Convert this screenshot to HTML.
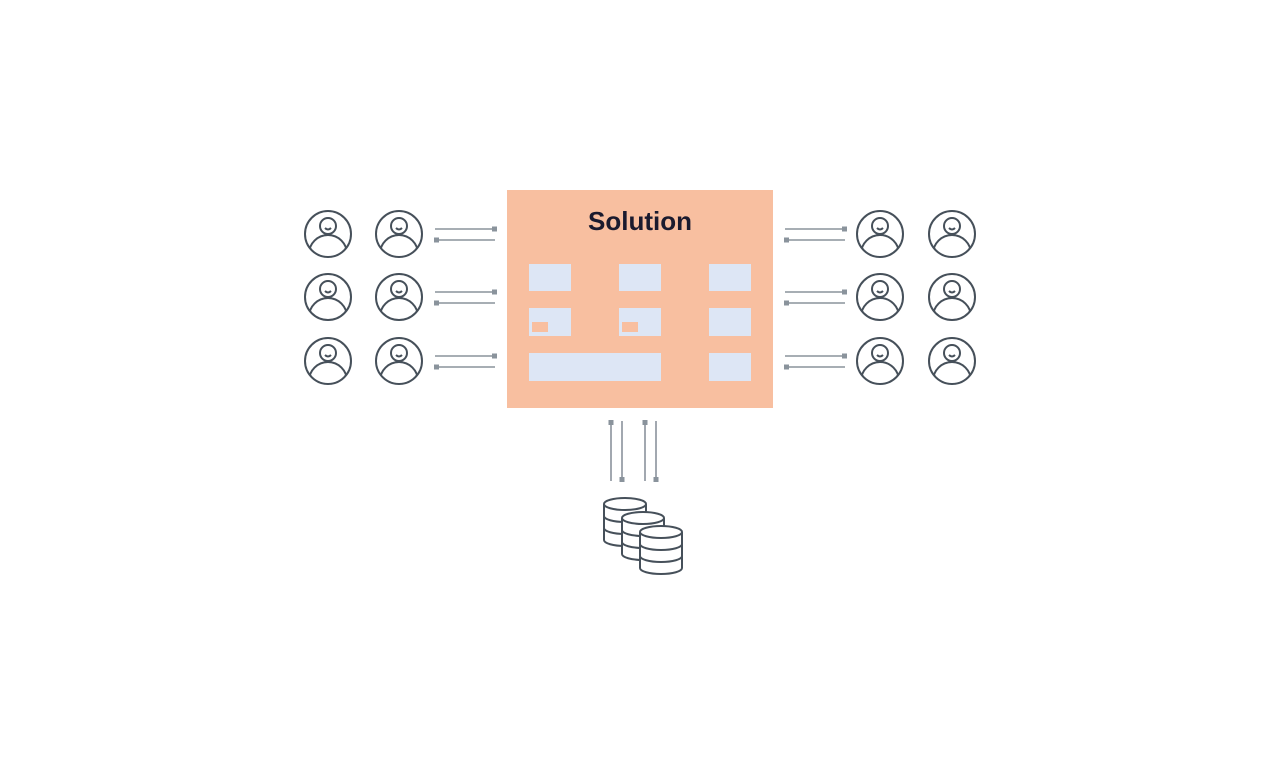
<!DOCTYPE html>
<html><head><meta charset="utf-8"><style>html,body{margin:0;background:#fff}svg{display:block}</style></head><body>
<svg width="1280" height="768" xmlns="http://www.w3.org/2000/svg">
<defs>
<clipPath id="cc"><circle cx="0" cy="0" r="23"/></clipPath>
<g id="p" fill="none" stroke="#46505a" stroke-width="2">
<g clip-path="url(#cc)"><ellipse cx="0" cy="20" rx="19" ry="19" fill="#fff"/></g>
<circle cx="0" cy="0" r="23"/>
<circle cx="0" cy="-8" r="8" fill="#fff"/>
<path d="M-3,-6 Q0,-3 3,-6"/>
</g>
<g id="db" stroke="#46505a" stroke-width="2" fill="#fff">
<path d="M-21,0 V36 A21,6 0 0 0 21,36 V0"/>
<ellipse cx="0" cy="0" rx="21" ry="6"/>
<path d="M-21,12 A21,6 0 0 0 21,12 M-21,24 A21,6 0 0 0 21,24" fill="none"/>
</g>
<g id="hl" stroke="#8a939c" stroke-width="1.6" fill="#8a939c">
<line x1="0" y1="-5" x2="60" y2="-5"/><rect x="57" y="-7.5" width="5" height="5" stroke="none"/>
<line x1="0" y1="6" x2="60" y2="6"/><rect x="-1" y="3.5" width="5" height="5" stroke="none"/>
</g>
</defs>
<rect x="507" y="190" width="266" height="218" fill="#f8bfa0"/>
<text x="640" y="230" text-anchor="middle" font-family="Liberation Sans, sans-serif" font-weight="bold" font-size="26" fill="#1a1a2e">Solution</text>
<g fill="#dde6f5">
<rect x="529" y="264" width="42" height="27"/><rect x="619" y="264" width="42" height="27"/><rect x="709" y="264" width="42" height="27"/>
<rect x="529" y="308" width="42" height="28"/><rect x="619" y="308" width="42" height="28"/><rect x="709" y="308" width="42" height="28"/>
<rect x="529" y="353" width="132" height="28"/><rect x="709" y="353" width="42" height="28"/>
</g>
<rect x="532" y="322" width="16" height="10" fill="#f8bfa0"/><rect x="622" y="322" width="16" height="10" fill="#f8bfa0"/>
<use href="#p" x="328" y="234"/><use href="#p" x="399" y="234"/><use href="#p" x="880" y="234"/><use href="#p" x="952" y="234"/>
<use href="#p" x="328" y="297"/><use href="#p" x="399" y="297"/><use href="#p" x="880" y="297"/><use href="#p" x="952" y="297"/>
<use href="#p" x="328" y="361"/><use href="#p" x="399" y="361"/><use href="#p" x="880" y="361"/><use href="#p" x="952" y="361"/>
<use href="#hl" x="435" y="234"/><use href="#hl" x="435" y="297"/><use href="#hl" x="435" y="361"/>
<use href="#hl" x="785" y="234"/><use href="#hl" x="785" y="297"/><use href="#hl" x="785" y="361"/>
<g stroke="#8a939c" stroke-width="1.6" fill="#8a939c">
<line x1="611" y1="421" x2="611" y2="481"/><rect x="608.5" y="420" width="5" height="5" stroke="none"/>
<line x1="622" y1="421" x2="622" y2="481"/><rect x="619.5" y="477" width="5" height="5" stroke="none"/>
<line x1="645" y1="421" x2="645" y2="481"/><rect x="642.5" y="420" width="5" height="5" stroke="none"/>
<line x1="656" y1="421" x2="656" y2="481"/><rect x="653.5" y="477" width="5" height="5" stroke="none"/>
</g>
<use href="#db" x="625" y="504"/><use href="#db" x="643" y="518"/><use href="#db" x="661" y="532"/>
</svg>
</body></html>
